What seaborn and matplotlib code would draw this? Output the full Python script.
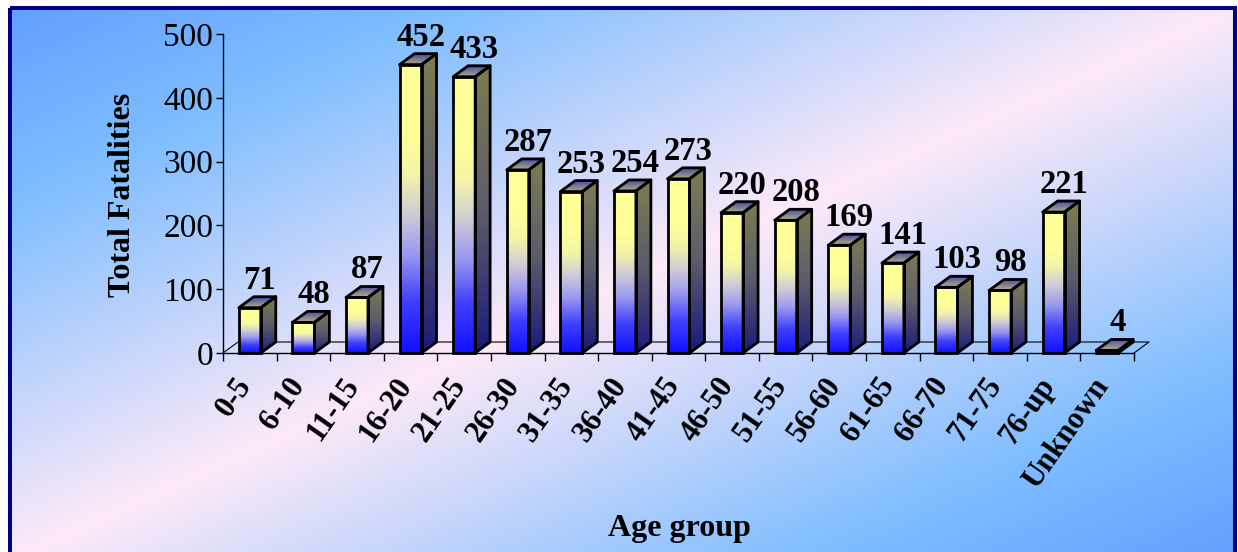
import numpy as np
import pandas as pd
import seaborn as sns
import matplotlib.pyplot as plt
from matplotlib.colors import LinearSegmentedColormap
from matplotlib.patches import Polygon, Rectangle
from matplotlib.transforms import ScaledTranslation

age_groups = ['0-5', '6-10', '11-15', '16-20', '21-25', '26-30', '31-35', '36-40',
              '41-45', '46-50', '51-55', '56-60', '61-65', '66-70', '71-75', '76-up',
              'Unknown']
fatalities = [71, 48, 87, 452, 433, 287, 253, 254, 273, 220, 208, 169, 141, 103, 98,
              221, 4]
y_ticks = [0, 100, 200, 300, 400, 500]

W, H, DPI = 1238, 552, 100

sns.set_style('white')
plt.rcParams['font.family'] = ['Liberation Serif', 'DejaVu Serif']
plt.rcParams['text.color'] = 'black'
plt.rcParams['xtick.color'] = 'black'
plt.rcParams['ytick.color'] = 'black'
plt.rcParams['axes.labelcolor'] = 'black'

### gradients
bg_cmap = LinearSegmentedColormap.from_list(
    'bg', [(0, '#62a0ff'), (0.18, '#80beff'), (0.5, '#fde9f8'),
           (0.82, '#80beff'), (1, '#62a0ff')])
front_cmap = LinearSegmentedColormap.from_list(
    'front', [(0, '#1010ff'), (0.18, '#4040ff'), (0.34, '#9a98f0'),
              (0.48, '#cfcbd8'), (0.62, '#f4f4a8'), (0.75, '#ffff99'),
              (1, '#ffff99')])
side_cmap = LinearSegmentedColormap.from_list(
    'side', [(0, '#1a1a7c'), (0.5, '#5c5c6c'), (1, '#7c7c50')])
top_cmap = LinearSegmentedColormap.from_list(
    'top', [(0, '#b0b07c'), (1, '#4a4aa8')])
ramp = np.linspace(0, 1, 256).reshape(-1, 1)

fig = plt.figure(figsize=(W / DPI, H / DPI), dpi=DPI)

# background panel with diagonal gradient and navy frame
bg = fig.add_axes([0, 0, 1, 1])
bg.axis('off')
u, v = np.meshgrid(np.linspace(0, 1, 400), np.linspace(0, 1, 200))
bg.imshow((u + v) / 2, cmap=bg_cmap, extent=[10, 1235, 560, 8], aspect='auto',
          interpolation='bilinear')
bg.add_patch(Rectangle((10, 8), 1225, 560, fill=False, edgecolor='#000080', lw=2.9))
bg.set_xlim(0, W)
bg.set_ylim(H, 0)

# main axes, placed in pixels
x_left, x_right, y_zero, y_top = 223, 1134, 353, 34
ax = fig.add_axes([x_left / W, (H - y_zero) / H, (x_right - x_left) / W,
                   (y_zero - y_top) / H])
ax.set_facecolor('none')

df = pd.DataFrame({'age': age_groups, 'n': fatalities})
sns.barplot(data=df, x='age', y='n', order=age_groups, width=0.41,
            color='white', ax=ax, zorder=3)

xlim = (-0.5, len(age_groups) - 0.5)
ylim = (0, 500)
px_x = (x_right - x_left) / (xlim[1] - xlim[0])
px_y = (y_zero - y_top) / (ylim[1] - ylim[0])
dx, dy = 15 / px_x, 11 / px_y
edge_w = 2.0

for bar in ax.patches[:len(age_groups)]:
    x0, w, h = bar.get_x(), bar.get_width(), bar.get_height()
    x1 = x0 + w
    bar.set_facecolor('none')
    bar.set_edgecolor('black')
    bar.set_linewidth(edge_w)
    bar.set_zorder(4)
    bar.set_clip_on(False)
    ax.imshow(ramp, cmap=front_cmap, origin='lower', extent=[x0, x1, 0, h],
              aspect='auto', zorder=2, clip_on=False)
    # side face
    side = Polygon([(x1, 0), (x1 + dx, dy), (x1 + dx, h + dy), (x1, h)], closed=True,
                   facecolor='none', edgecolor='black', lw=edge_w, zorder=4,
                   clip_on=False, joinstyle='round')
    ax.add_patch(side)
    im = ax.imshow(ramp, cmap=side_cmap, origin='lower',
                   extent=[x1, x1 + dx, 0, h + dy], aspect='auto', zorder=2)
    im.set_clip_path(side)
    # top face
    top = Polygon([(x0, h), (x1, h), (x1 + dx, h + dy), (x0 + dx, h + dy)], closed=True,
                  facecolor='none', edgecolor='black', lw=edge_w, zorder=4,
                  clip_on=False, joinstyle='round')
    ax.add_patch(top)
    im = ax.imshow(ramp, cmap=top_cmap, origin='lower',
                   extent=[x0, x1 + dx, h, h + dy], aspect='auto', zorder=2)
    im.set_clip_path(top)
    ax.annotate(f'{h:.0f}', (x0 + w / 2, h), xytext=(10, 19),
                textcoords='offset pixels', ha='center', va='baseline',
                fontsize=23.5, fontweight='bold', zorder=5, annotation_clip=False)

# floor of the 3d plot
ax.plot([xlim[0], xlim[0] + dx, xlim[1] + dx, xlim[1]], [0, dy, dy, 0],
        color='black', lw=0.8, zorder=1, clip_on=False)

ax.set_xlim(*xlim)
ax.set_ylim(*ylim)
ax.set_yticks(y_ticks)
ax.set_yticklabels([str(t) for t in y_ticks], fontsize=24)
ax.tick_params(axis='y', direction='out', length=5, width=1, pad=2, left=True)
ax.set_xticks(range(len(age_groups)))
ax.set_xticklabels(age_groups, rotation=55, ha='right', va='center',
                   rotation_mode='anchor', fontsize=22, fontweight='bold')
ax.tick_params(axis='x', which='major', length=0, pad=20)
shift = ScaledTranslation(-4 / DPI, 0, fig.dpi_scale_trans)
for lab in ax.get_xticklabels():
    lab.set_transform(lab.get_transform() + shift)
ax.set_xticks(np.arange(-0.5, len(age_groups), 1), minor=True)
ax.tick_params(axis='x', which='minor', direction='out', length=6, width=1,
               bottom=True)
for s in ['top', 'right']:
    ax.spines[s].set_visible(False)
for s in ['left', 'bottom']:
    ax.spines[s].set_color('black')
    ax.spines[s].set_linewidth(1)
ax.set_xlabel('')
ax.set_ylabel('')

ax.text(-0.1098, 0.495, 'Total Fatalities', transform=ax.transAxes, rotation=90,
        ha='center', va='center', fontsize=23, fontweight='bold')
ax.text(0.5005, -0.5486, 'Age group', transform=ax.transAxes, ha='center',
        va='center', fontsize=23, fontweight='bold')

plt.savefig('out.png', dpi=DPI)
